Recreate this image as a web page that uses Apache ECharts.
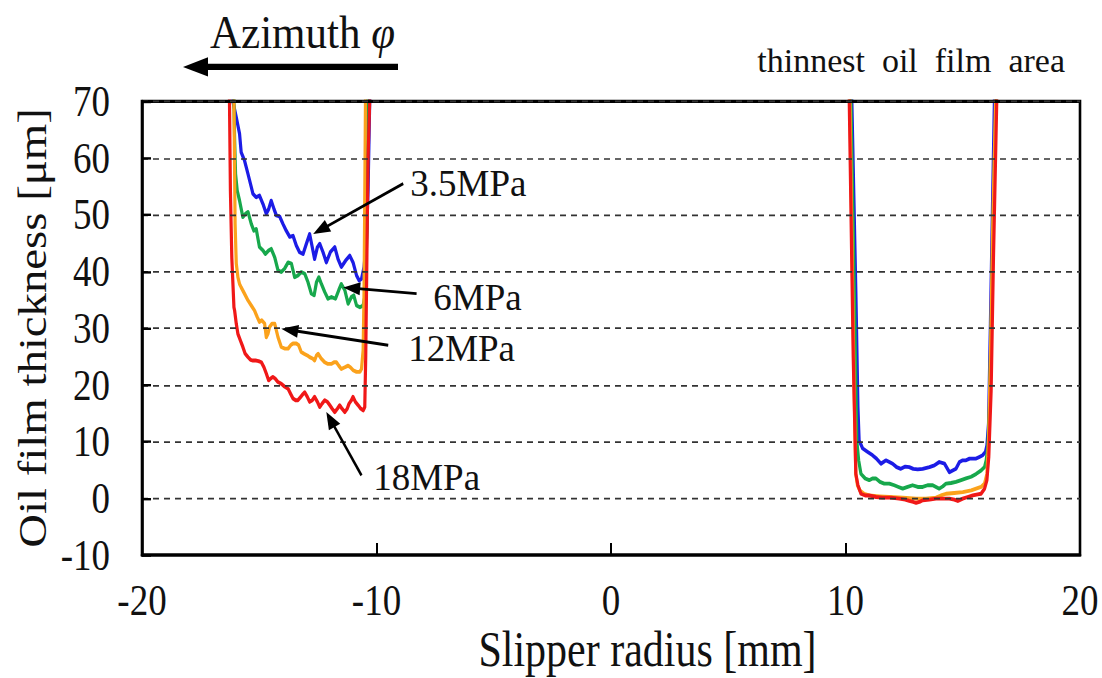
<!DOCTYPE html>
<html>
<head>
<meta charset="utf-8">
<script src="https://cdn.jsdelivr.net/npm/echarts@6/dist/echarts.min.js"></script>
<style>
  html, body { margin: 0; padding: 0; background: #fff; }
  html { overflow: hidden; }
  body { width: 1102px; height: 678px; }
  /* the figure is laid out 1102x565 and stretched vertically to 678 */
  #chart { width: 1102px; height: 565px; transform: scaleY(1.2); transform-origin: 0 0; }
</style>
</head>
<body>
<div id="chart"></div>
<script>
// Oil film thickness across the slipper radius for four supply pressures.
const STRETCH = 1.2;
const FONT = '"Liberation Serif", "Times New Roman", serif';

const xRange = [-20, 20, 10];   // min, max, step [mm]
const yRange = [-10, 70, 10];   // min, max, step [µm]

const pressures = ['3.5MPa', '6MPa', '12MPa', '18MPa'];
const colors = ['#1c1ce6', '#17a84c', '#fba21c', '#f01818'];

// [radius mm, thickness µm] — inner (negative radius) well
const blueLeft = [[-16.20,80],[-16.13,70.1],[-15.98,67.2],[-15.84,64.3],[-15.77,61.0],[-15.63,59.6],[-15.48,57.2],[-15.34,54.9],[-15.27,53.7],[-15.13,53.1],[-14.99,53.4],[-14.84,51.9],[-14.70,50.2],[-14.60,51.0],[-14.49,52.5],[-14.37,51.0],[-14.27,49.9],[-14.13,49.7],[-13.99,48.4],[-13.85,47.2],[-13.70,46.1],[-13.56,46.3],[-13.42,44.6],[-13.28,43.4],[-13.13,43.1],[-12.99,44.9],[-12.85,46.6],[-12.74,44.3],[-12.64,42.2],[-12.52,44.3],[-12.42,44.9],[-12.28,43.4],[-12.14,41.6],[-11.97,43.4],[-11.78,44.3],[-11.64,42.2],[-11.50,40.8],[-11.32,41.9],[-11.14,42.8],[-11.00,41.6],[-10.85,39.3],[-10.74,38.4],[-10.64,38.7],[-10.53,40.8],[-10.43,45.5],[-10.36,54.3],[-10.29,70.1],[-10.27,80]];
const greenLeft = [[-16.10,80],[-16.08,70.1],[-16.05,63.1],[-16.01,57.2],[-15.94,54.3],[-15.84,52.5],[-15.70,49.6],[-15.58,50.2],[-15.48,50.5],[-15.34,48.4],[-15.23,47.2],[-15.13,47.5],[-14.99,44.3],[-14.84,43.7],[-14.74,43.1],[-14.60,43.7],[-14.49,44.0],[-14.34,42.5],[-14.20,40.2],[-14.06,39.9],[-13.92,40.5],[-13.77,41.6],[-13.63,41.4],[-13.49,39.0],[-13.35,39.3],[-13.21,39.9],[-13.06,39.6],[-12.92,38.1],[-12.78,36.1],[-12.66,35.8],[-12.56,38.1],[-12.46,39.0],[-12.35,37.8],[-12.21,36.4],[-12.07,35.2],[-11.92,35.5],[-11.75,35.2],[-11.61,36.7],[-11.50,37.8],[-11.35,36.7],[-11.21,34.3],[-11.07,35.5],[-10.97,35.8],[-10.85,34.0],[-10.71,33.7],[-10.57,34.0],[-10.50,35.5],[-10.46,39.6],[-10.40,48.4],[-10.36,70.1],[-10.34,80]];
const orangeLeft = [[-16.10,80],[-16.08,70.1],[-16.03,48.4],[-15.98,41.4],[-15.91,39.0],[-15.84,37.8],[-15.77,37.2],[-15.63,36.1],[-15.48,34.9],[-15.34,34.0],[-15.20,33.1],[-15.09,32.0],[-14.99,31.1],[-14.89,31.4],[-14.77,30.8],[-14.70,28.4],[-14.63,29.0],[-14.56,30.2],[-14.46,30.8],[-14.34,30.8],[-14.27,29.6],[-14.20,28.4],[-14.06,26.7],[-13.92,26.4],[-13.77,26.4],[-13.66,27.0],[-13.56,27.3],[-13.42,27.3],[-13.32,27.0],[-13.21,25.8],[-13.09,25.5],[-12.95,25.2],[-12.85,24.9],[-12.71,24.6],[-12.64,24.3],[-12.56,25.2],[-12.49,25.5],[-12.35,24.6],[-12.21,24.0],[-12.07,23.7],[-11.92,23.7],[-11.81,24.0],[-11.71,24.0],[-11.61,23.4],[-11.50,22.8],[-11.35,23.1],[-11.21,23.4],[-11.11,23.1],[-11.00,22.6],[-10.85,22.3],[-10.71,22.3],[-10.64,22.8],[-10.57,26.1],[-10.53,36.7],[-10.47,70.1],[-10.45,80]];
const redLeft = [[-16.28,80],[-16.27,70.1],[-16.23,54.3],[-16.17,42.4],[-16.08,33.7],[-16.05,33.1],[-15.98,30.8],[-15.91,29.0],[-15.80,27.8],[-15.70,26.7],[-15.60,25.5],[-15.48,24.9],[-15.37,24.4],[-15.27,24.3],[-15.13,24.3],[-15.03,24.2],[-14.91,24.0],[-14.80,23.1],[-14.70,22.0],[-14.60,20.8],[-14.52,21.1],[-14.42,21.4],[-14.32,21.1],[-14.20,20.5],[-14.06,20.2],[-13.92,19.7],[-13.77,19.3],[-13.66,18.4],[-13.56,17.6],[-13.45,17.3],[-13.35,17.3],[-13.23,17.9],[-13.13,18.4],[-13.06,18.7],[-12.95,17.9],[-12.85,17.0],[-12.74,17.3],[-12.64,17.9],[-12.52,17.0],[-12.42,16.1],[-12.32,16.7],[-12.21,17.3],[-12.09,17.0],[-11.99,16.4],[-11.89,15.8],[-11.78,15.2],[-11.67,15.8],[-11.57,16.4],[-11.47,15.8],[-11.35,15.2],[-11.25,15.8],[-11.17,16.7],[-11.07,17.3],[-11.00,17.9],[-10.90,17.0],[-10.78,16.4],[-10.67,15.8],[-10.57,15.5],[-10.50,16.1],[-10.46,24.9],[-10.41,42.4],[-10.36,60.1],[-10.29,70.1],[-10.28,80]];

// outer (positive radius) well — thinnest oil film area
const blueRight = [[10.26,80],[10.27,70.1],[10.44,36.7],[10.53,16.1],[10.58,10.2],[10.73,8.8],[10.94,8.2],[11.15,7.6],[11.32,7.0],[11.51,6.1],[11.72,6.7],[11.87,6.4],[12.01,6.1],[12.18,5.5],[12.36,5.2],[12.55,5.6],[12.72,5.5],[12.89,5.2],[13.08,5.1],[13.29,5.2],[13.58,5.5],[13.79,5.8],[14.00,6.4],[14.22,6.1],[14.43,4.6],[14.57,4.9],[14.71,5.2],[14.86,6.4],[15.00,6.7],[15.14,6.7],[15.29,7.0],[15.57,7.0],[15.71,7.3],[15.85,7.6],[15.97,8.2],[16.03,9.3],[16.10,13.2],[16.18,30.8],[16.28,54.3],[16.35,70.1],[16.36,80]];
const greenRight = [[10.22,80],[10.23,70.1],[10.40,30.8],[10.48,10.2],[10.56,6.7],[10.66,4.3],[10.84,3.5],[11.01,3.2],[11.15,3.5],[11.30,3.5],[11.47,2.9],[11.65,2.6],[11.87,2.6],[12.08,2.3],[12.26,2.0],[12.44,1.7],[12.65,2.0],[12.86,2.3],[13.08,2.0],[13.29,2.0],[13.50,2.3],[13.72,2.3],[13.86,2.0],[14.00,1.7],[14.15,2.1],[14.29,2.6],[14.50,2.7],[14.71,2.9],[14.93,3.2],[15.14,3.5],[15.36,3.8],[15.57,4.3],[15.78,4.9],[15.93,5.5],[16.00,6.7],[16.07,9.0],[16.14,16.1],[16.24,36.7],[16.35,60.1],[16.42,70.1],[16.43,80]];
const orangeRight = [[10.18,80],[10.19,70.1],[10.37,19.0],[10.44,4.3],[10.51,2.3],[10.61,1.4],[10.80,0.8],[11.01,0.5],[11.44,0.35],[11.87,0.23],[12.44,0.12],[13.01,-0.06],[13.43,-0.06],[13.86,0.12],[14.07,0.5],[14.29,0.8],[14.64,0.94],[15.00,1.1],[15.36,1.4],[15.57,1.7],[15.78,2.0],[15.93,2.6],[16.03,4.3],[16.10,10.2],[16.18,24.9],[16.28,48.4],[16.40,70.1],[16.41,80]];
const redRight = [[10.15,80],[10.16,70.1],[10.33,24.9],[10.44,4.3],[10.53,2.3],[10.66,0.8],[10.84,0.5],[11.01,0.5],[11.30,0.23],[11.58,0.12],[11.94,0.12],[12.29,-0.06],[12.55,-0.23],[12.72,-0.47],[12.89,-0.65],[13.01,-0.82],[13.15,-0.65],[13.29,-0.35],[13.58,-0.23],[13.86,-0.06],[14.15,-0.06],[14.43,-0.06],[14.64,-0.23],[14.79,-0.47],[15.00,-0.06],[15.21,0.23],[15.43,0.5],[15.64,0.7],[15.78,0.8],[15.93,1.7],[16.03,3.2],[16.11,7.3],[16.21,19.0],[16.31,42.4],[16.45,70.1],[16.46,80]];

const profiles = [
  [blueLeft, blueRight],
  [greenLeft, greenRight],
  [orangeLeft, orangeRight],
  [redLeft, redRight]
];

// pressure call-outs: label anchor, arrow tail and arrow head in data units
const noteText = [[-8.56, 55.5], [-7.58, 35.4], [-8.65, 26.4], [-10.14, 3.7]];
const noteTail = [[-8.86, 55.5], [-8.29, 36.1], [-9.50, 27.0], [-10.64, 4.05]];
const noteHead = [[-12.70, 46.6], [-11.42, 37.2], [-14.06, 29.9], [-12.14, 15.2]];

const chart = echarts.init(document.getElementById('chart'), null, { renderer: 'svg' });

const series = [];
profiles.forEach((pair, i) => {
  pair.forEach(data => {
    series.push({
      name: pressures[i],
      type: 'line',
      data: data,
      showSymbol: false,
      clip: true,
      z: 3 + i,
      lineStyle: { color: colors[i], width: 3.2, join: 'round' },
      itemStyle: { color: colors[i] },
      animation: false
    });
  });
});

chart.setOption({
  animation: false,
  backgroundColor: '#fff',
  grid: {
    left: 142, right: 22, top: 84.5, bottom: 102.5,
    show: true, borderColor: '#000', borderWidth: 2.6, backgroundColor: 'transparent', z: 10
  },
  xAxis: {
    type: 'value', min: xRange[0], max: xRange[1], interval: xRange[2],
    axisLine: { show: true, onZero: false, lineStyle: { color: '#000', width: 2.6 } },
    axisTick: { show: true, inside: true, length: 10, lineStyle: { color: '#000', width: 2 } },
    axisLabel: { fontFamily: FONT, fontSize: 37, color: '#111', margin: 19 },
    splitLine: { show: false },
    z: 10
  },
  yAxis: {
    type: 'value', min: yRange[0], max: yRange[1], interval: yRange[2],
    axisLine: { show: true, onZero: false, lineStyle: { color: '#000', width: 2.6 } },
    axisTick: { show: true, inside: true, length: 9, lineStyle: { color: '#000', width: 2 } },
    axisLabel: { fontFamily: FONT, fontSize: 37, color: '#111', margin: 32 },
    splitLine: { show: true, lineStyle: { color: '#333', width: 1.4, type: [6, 5] } },
    z: 10
  },
  series: series
});

// ---- overlay: titles, call-outs and the azimuth arrow ----
const toPx = p => chart.convertToPixel({ gridIndex: 0 }, p);
const unstretch = 1 / STRETCH;

function arrow(tail, head, width, headLen, headHalf) {
  // build the head in display space so it stays symmetric after the stretch
  const t = [tail[0], tail[1] * STRETCH];
  const h = [head[0], head[1] * STRETCH];
  const dx = h[0] - t[0], dy = h[1] - t[1];
  const len = Math.hypot(dx, dy);
  const ux = dx / len, uy = dy / len;
  const bx = h[0] - ux * headLen, by = h[1] - uy * headLen;
  const pts = [
    [h[0], h[1]],
    [bx - uy * headHalf, by + ux * headHalf],
    [bx + uy * headHalf, by - ux * headHalf]
  ].map(p => [p[0], p[1] / STRETCH]);
  return [
    { type: 'line', z: 50, shape: { x1: tail[0], y1: tail[1], x2: (bx + ux * 2), y2: (by + uy * 2) / STRETCH },
      style: { stroke: '#000', lineWidth: width } },
    { type: 'polygon', z: 50, shape: { points: pts }, style: { fill: '#000' } }
  ];
}

const graphics = [];

pressures.forEach((label, i) => {
  graphics.push(...arrow(toPx(noteTail[i]), toPx(noteHead[i]), 2.4, 17, 6.5));
  const p = toPx(noteText[i]);
  graphics.push({
    type: 'text', z: 60, x: p[0], y: p[1], scaleY: unstretch,
    style: { text: label, fontFamily: FONT, fontSize: 37, fill: '#111', align: 'left', verticalAlign: 'middle' }
  });
});

// axis titles
graphics.push({
  type: 'text', z: 60, x: 647.5, y: 541,
  style: { text: 'Slipper radius [mm]', fontFamily: FONT, fontSize: 42, fill: '#111', align: 'center', verticalAlign: 'middle' }
});
graphics.push({
  type: 'text', z: 60, x: 33, y: 273.3, rotation: Math.PI / 2,
  style: { text: 'Oil film thickness [μm]', fontFamily: FONT, fontSize: 39, fill: '#111', align: 'center', verticalAlign: 'middle' }
});

// azimuth direction marker
graphics.push({
  type: 'text', z: 60, x: 210, y: 27, scaleY: 1 / 1.1,
  style: {
    text: 'Azimuth {i|φ}', fontFamily: FONT, fontSize: 43, fill: '#111', align: 'left', verticalAlign: 'middle',
    rich: { i: { fontFamily: FONT, fontSize: 43, fontStyle: 'italic', fill: '#111' } }
  }
});
graphics.push({
  type: 'rect', z: 60, shape: { x: 204, y: 55.8 - 2.6, width: 194, height: 5.2 }, style: { fill: '#000' }
});
graphics.push({
  type: 'polygon', z: 60,
  shape: { points: [[183, 55.8], [208, 55.8 - 8], [208, 55.8 + 8]] }, style: { fill: '#000' }
});

graphics.push({
  type: 'text', z: 60, x: 1065, y: 50.8, scaleY: unstretch,
  style: { text: 'thinnest\u00a0 oil\u00a0 film\u00a0 area', fontFamily: FONT, fontSize: 34, fill: '#111', align: 'right', verticalAlign: 'middle' }
});

chart.setOption({ graphic: graphics });
</script>
</body>
</html>
